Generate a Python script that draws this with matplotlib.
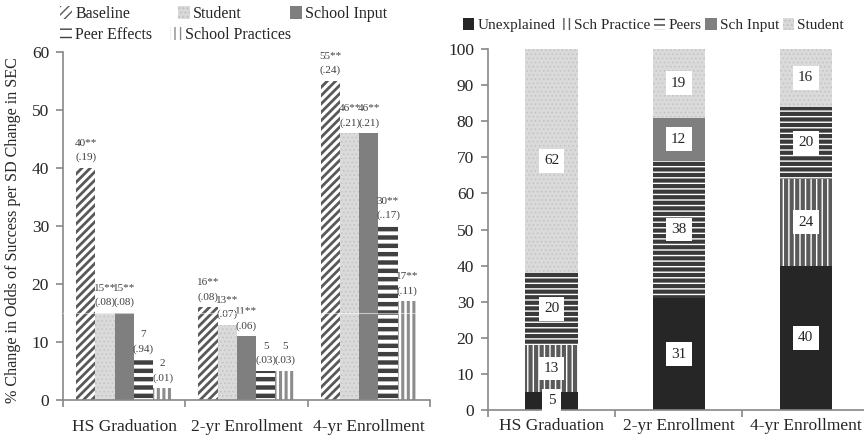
import matplotlib
matplotlib.use("Agg")
import matplotlib.pyplot as plt
import numpy as np

plt.rcParams["font.family"] = ["Liberation Serif", "DejaVu Serif"]

# ---------------------------
# Left panel: % change in odds per SD change in SEC, by model
# ---------------------------
outcomes = ["HS Graduation", "2-yr Enrollment", "4-yr Enrollment"]
model_names = ["Baseline", "Student", "School Input", "Peer Effects", "School Practices"]

baseline = [40, 16, 55]
student = [15, 13, 46]
school_input = [15, 11, 46]
peer_effects = [7, 5, 30]
school_practices = [2, 5, 17]

baseline_sig = ["**", "**", "**"]
student_sig = ["**", "**", "**"]
school_input_sig = ["**", "**", "**"]
peer_effects_sig = ["", "", "**"]
school_practices_sig = ["", "", "**"]

baseline_se = [".19", ".08", ".24"]
student_se = [".08", ".07", ".21"]
school_input_se = [".08", ".06", ".21"]
peer_effects_se = [".94", ".03", "..17"]
school_practices_se = [".01", ".03", ".11"]

# ---------------------------
# Right panel: decomposition of the SEC gap (percent)
# ---------------------------
segment_names = ["Unexplained", "Sch Practice", "Peers", "Sch Input", "Student"]
unexplained = [5, 31, 40]
sch_practice = [13, 0, 24]
peers = [20, 38, 20]
sch_input = [0, 12, 0]
student_share = [62, 19, 16]

# fill styles: (face, hatch colour, hatch, hatch linewidth)
STYLE = {
    "Baseline": ("white", "#595959", "////", 2.0),
    "Student": ("#dadada", "#c2c2c2", "....", 0.6),
    "School Input": ("#7f7f7f", "#7f7f7f", None, 1.0),
    "Peer Effects": ("white", "#404040", "--", 3.2),
    "School Practices": ("white", "#8c8c8c", "|||", 2.2),
    "Unexplained": ("#262626", "#262626", None, 1.0),
    "Sch Practice": ("white", "#5a5a5a", "|||", 3.0),
    "Peers": ("white", "#3a3a3a", "---", 3.0),
    "Sch Input": ("#7f7f7f", "#7f7f7f", None, 1.0),
    "Student share": ("#dadada", "#c2c2c2", "....", 0.6),
}

AXIS_GREY = "#888888"
TEXT = "#262626"


def styled_bar(ax, x, heights, width, style_key, bottom=None, label=None):
    face, hcol, hatch, hlw = STYLE[style_key]
    with plt.rc_context({"hatch.linewidth": hlw}):
        bars = ax.bar(x, heights, width, bottom=bottom, color=face,
                      edgecolor=hcol, hatch=hatch, linewidth=0, label=label,
                      zorder=2)
    for b in bars:
        if hasattr(b, "set_hatch_linewidth"):
            b.set_hatch_linewidth(hlw)
    return bars


def style_axes(ax, xpad):
    for side in ("top", "right"):
        ax.spines[side].set_visible(False)
    for side in ("left", "bottom"):
        ax.spines[side].set_color(AXIS_GREY)
        ax.spines[side].set_linewidth(1.2)
    ax.tick_params(axis="y", direction="out", length=5, width=1.2,
                   color=AXIS_GREY, labelsize=12.5, labelcolor=TEXT, pad=5)
    ax.tick_params(axis="x", which="major", length=0, labelsize=12.5,
                   labelcolor=TEXT, pad=xpad)
    ax.tick_params(axis="x", which="minor", direction="out", length=5,
                   width=1.2, color=AXIS_GREY)


fig = plt.figure(figsize=(8.64, 4.42), dpi=100)
W, H = 864, 442

# ---- left panel ----
ax1 = fig.add_axes([63 / W, 1 - 400 / H, (430 - 63) / W, (400 - 52) / H])
x = np.arange(len(outcomes))
bw = 0.157

series = [
    ("Baseline", baseline, baseline_sig, baseline_se),
    ("Student", student, student_sig, student_se),
    ("School Input", school_input, school_input_sig, school_input_se),
    ("Peer Effects", peer_effects, peer_effects_sig, peer_effects_se),
    ("School Practices", school_practices, school_practices_sig, school_practices_se),
]

handles = {}
for i, (name, vals, sig, se) in enumerate(series):
    xs = x + (i - 2) * bw
    bars = styled_bar(ax1, xs, vals, bw, name, label=name)
    handles[name] = bars
    for b, v, s, e in zip(bars, vals, sig, se):
        ax1.annotate(f"{v}{s}\n({e})", (b.get_x() + b.get_width() / 2, v),
                     xytext=(0, 4), textcoords="offset points",
                     ha="center", va="bottom", fontsize=8, color="#404040",
                     linespacing=1.65)

# faint guide that shows through the bars at 15
ax1.axhline(15, color="white", alpha=0.55, lw=0.8, zorder=3)

ax1.set_xlim(-0.5, 2.5)
ax1.set_ylim(0, 60)
ax1.set_yticks(range(0, 61, 10))
ax1.set_xticks(x)
ax1.set_xticklabels(outcomes)
ax1.set_xticks([-0.5, 0.5, 1.5, 2.5], minor=True)
style_axes(ax1, xpad=14)

fig.text(13 / W, 1 - 230 / H, "% Change in Odds of Success per SD Change in SEC",
         rotation=90, ha="center", va="center", fontsize=11.6, color=TEXT)

leg_kw = dict(frameon=False, handlelength=0.75, handleheight=0.8,
              handletextpad=0.2, borderpad=0, borderaxespad=0,
              labelcolor=TEXT)
row1 = ["Baseline", "Student", "School Input"]
row2 = ["Peer Effects", "School Practices"]
fig.legend([handles[n] for n in row1], row1, loc="center left",
           bbox_to_anchor=(60 / W, 1 - 14 / H), ncol=3, columnspacing=3.0,
           fontsize=11.5, **leg_kw)
fig.legend([handles[n] for n in row2], row2, loc="center left",
           bbox_to_anchor=(60 / W, 1 - 35 / H), ncol=2, columnspacing=1.1,
           fontsize=11.5, **leg_kw)

# ---- right panel ----
ax2 = fig.add_axes([488 / W, 1 - 410 / H, (864 - 488) / W, (410 - 49) / H])
stack = [
    ("Unexplained", unexplained),
    ("Sch Practice", sch_practice),
    ("Peers", peers),
    ("Sch Input", sch_input),
    ("Student share", student_share),
]
bottom = np.zeros(len(outcomes))
handles2 = []
for key, vals in stack:
    vals = np.array(vals, dtype=float)
    bars = styled_bar(ax2, x, vals, 0.41, key, bottom=bottom)
    handles2.append(bars)
    for xi, v, b0 in zip(x, vals, bottom):
        if v > 0:
            ax2.text(xi, b0 + v / 2, f"{v:g}", ha="center", va="center",
                     fontsize=11, color=TEXT, zorder=4,
                     bbox=dict(boxstyle="square,pad=0.35", fc="white",
                               ec="none"))
    bottom += vals

ax2.set_xlim(-0.496, 2.46)
ax2.set_ylim(0, 100)
ax2.set_yticks(range(0, 101, 10))
ax2.set_xticks(x)
ax2.set_xticklabels(outcomes)
ax2.set_xticks([-0.5, 0.5, 1.5], minor=True)
style_axes(ax2, xpad=6)

fig.legend(handles2, segment_names, loc="center left",
           bbox_to_anchor=(463 / W, 1 - 25 / H), ncol=5, columnspacing=0.25,
           fontsize=11, **leg_kw)

fig.savefig("out.png", dpi=100)
